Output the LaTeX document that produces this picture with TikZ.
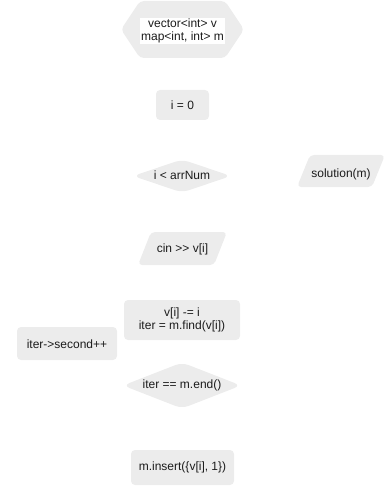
\documentclass[tikz,border=0pt]{standalone}
\usepackage{fontspec}
\setmainfont{Liberation Sans}
\definecolor{boxfill}{RGB}{236,236,236}
\definecolor{ink}{RGB}{28,28,28}
\begin{document}
\begin{tikzpicture}[x=1pt,y=-1pt,
  shapefill/.style={fill=boxfill, rounded corners=4pt},
  softfill/.style={fill=boxfill, rounded corners=7pt},
  label/.style={text=ink, font=\fontsize{12}{13.5}\selectfont, align=center, inner sep=1pt}]
\useasboundingbox (0,0) rectangle (388,486);

% declarations (hexagon)
\fill[shapefill] (121,29.5) -- (140,1) -- (225,1) -- (244,29.5) -- (225,58) -- (140,58) -- cycle;
\node[label, fill=white] (decl) at (182.5,31) {vector<int> v\\map<int, int> m};

% loop counter init
\fill[shapefill] (156,90) rectangle (209,120);
\node[label] (init) at (182.5,105) {i = 0};

% loop condition (diamond)
\fill[softfill] (133,176) -- (182,159.5) -- (231,176) -- (182,192.5) -- cycle;
\node[label] (cond) at (182,175.5) {i < arrNum};

% output (parallelogram)
\fill[shapefill] (297,187) -- (310,155) -- (385,155) -- (372,187) -- cycle;
\node[label] (out) at (341,174) {solution(m)};

% input (parallelogram)
\fill[shapefill] (138,265) -- (151,232) -- (227,232) -- (214,265) -- cycle;
\node[label] (read) at (182.5,249.5) {cin >{}> v[i]};

% process
\fill[shapefill] (124,300) rectangle (240,340);
\node[label] (find) at (182,320) {v[i] -= i\\iter = m.find(v[i])};

% increment
\fill[shapefill] (17,327) rectangle (117,360);
\node[label] (inc) at (67,344.5) {iter->second++};

% lookup condition (diamond)
\fill[softfill] (123,385.5) -- (182,362.5) -- (241,385.5) -- (182,408.5) -- cycle;
\node[label] (found) at (182,385.5) {iter == m.end()};

% insert
\fill[shapefill] (131,450) rectangle (234,485);
\node[label] (ins) at (182.5,467.5) {m.insert(\{v[i], 1\})};
\end{tikzpicture}
\end{document}
